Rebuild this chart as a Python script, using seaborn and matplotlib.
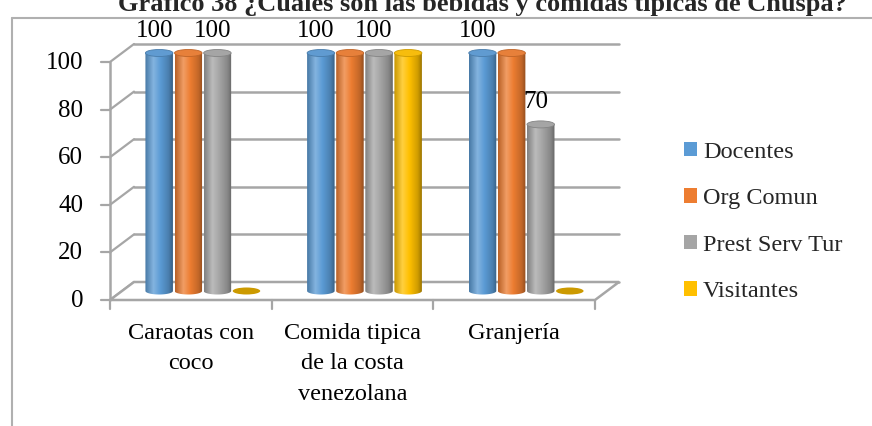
import numpy as np
import pandas as pd
import matplotlib
matplotlib.use("Agg")
import matplotlib.pyplot as plt
import matplotlib.transforms as mtransforms
from matplotlib.path import Path
from matplotlib.patches import Ellipse, Polygon, Rectangle
from matplotlib.colors import LinearSegmentedColormap, to_rgb
from matplotlib.lines import Line2D
import seaborn as sns

# ---------------- data ----------------
categorias = ["Caraotas con\ncoco", "Comida tipica\nde la costa\nvenezolana", "Granjería"]
grupos = ["Docentes", "Org Comun", "Prest Serv Tur", "Visitantes"]
docentes = [100, 100, 100]
org_comun = [100, 100, 100]
prest_serv_tur = [100, 100, 70]
visitantes = [0, 100, 0]
colores = ["#5B9BD5", "#ED7D31", "#A5A5A5", "#FFC000"]
grupos_con_etiqueta = ["Docentes", "Prest Serv Tur"]
titulo = "Gráfico 38 ¿Cuáles son las bebidas y comidas típicas de Chuspa?"
yticks = [0, 20, 40, 60, 80, 100]

series = [docentes, org_comun, prest_serv_tur, visitantes]
df = pd.DataFrame({
    "categoria": [c for s in series for c in categorias],
    "grupo": [g for g, s in zip(grupos, series) for _ in s],
    "valor": [v for s in series for v in s],
})

# ---------------- figure ----------------
sns.set_theme(style="white")
plt.rcParams["font.family"] = ["Liberation Serif", "DejaVu Serif"]
FS = 17.5
W, H = 872, 426
fig = plt.figure(figsize=(W / 100, H / 100), dpi=100)
x0, x1 = 110, 595
y0, y1 = 300, 62
ax = fig.add_axes([x0 / W, (H - y0) / H, (x1 - x0) / W, (y0 - y1) / H])

sns.barplot(data=df, x="categoria", y="valor", hue="grupo", palette=colores,
            hue_order=grupos, order=categorias, width=0.72, gap=0, ax=ax,
            legend=False, saturation=1, errorbar=None)
ax.set_xlim(-0.5, len(categorias) - 0.5)
ax.set_ylim(0, 100)
for s in ax.spines.values():
    s.set_visible(False)
ax.set_xticks([])
ax.set_yticks([])
ax.set_xlabel("")
ax.set_ylabel("")

DX, DY = 24, 18  # depth offset in pixels
grid_c = "#A6A6A6"
idn = mtransforms.IdentityTransform()
wall = mtransforms.offset_copy(ax.get_yaxis_transform(), fig=fig, x=DX, y=DY, units="dots")
disp = lambda xy: ax.transData.transform(xy)

# back wall gridlines + left wall diagonals + y ticks
for t in yticks:
    ax.add_line(Line2D([0, 1], [t, t], transform=wall, color=grid_c, lw=1.8, clip_on=False, zorder=0))
    p0 = disp((-0.5, t))
    ax.add_line(Line2D([p0[0], p0[0] + DX], [p0[1], p0[1] + DY], transform=idn,
                       color=grid_c, lw=1.6, clip_on=False, zorder=0))
    ax.add_line(Line2D([p0[0] - 9, p0[0]], [p0[1], p0[1]], transform=idn,
                       color=grid_c, lw=1.6, clip_on=False, zorder=0))
    ax.text(p0[0] - 27, p0[1] - 1, f"{t}", transform=idn, ha="right",
            va="center", fontsize=FS + 0.5, color="black")

# floor
pl = disp((-0.5, 0)); pr = disp((len(categorias) - 0.5, 0))
floor = Polygon([pl, pr, (pr[0] + DX, pr[1] + DY), (pl[0] + DX, pl[1] + DY)], closed=True,
                transform=idn, facecolor="white", edgecolor=grid_c,
                lw=1.8, zorder=0.5, clip_on=False)
ax.add_patch(floor)
pt = disp((-0.5, 100))
ax.add_line(Line2D([pl[0], pt[0]], [pl[1], pt[1]], transform=idn,
                   color=grid_c, lw=1.8, clip_on=False, zorder=0.6))
for i in range(len(categorias) + 1):
    p = disp((i - 0.5, 0))
    ax.add_line(Line2D([p[0], p[0]], [p[1], p[1] - 9], transform=idn,
                       color=grid_c, lw=1.6, clip_on=False, zorder=0.6))
for i, c in enumerate(categorias):
    p = disp((i, 0))
    ax.text(p[0], p[1] - 23, c, transform=idn, ha="center", va="top",
            fontsize=FS, linespacing=1.58, color="black")

# cylinders
def cyl_cmap(col):
    r = np.array(to_rgb(col))
    stops = [(0.0, r * 0.78), (0.3, np.clip(r + (1 - r) * 0.25, 0, 1)), (0.55, r),
             (0.85, r * 0.82), (1.0, r * 0.62)]
    return LinearSegmentedColormap.from_list("c", [(p, tuple(np.clip(c, 0, 1))) for p, c in stops])

EH = 7
patches = [p for p in ax.patches if isinstance(p, Rectangle)]
k = 0
for gi, g in enumerate(grupos):
    for ci in range(len(categorias)):
        p = patches[k]; k += 1
        p.set_visible(False)
        xb, w, h = p.get_x(), p.get_width(), p.get_height()
        (lx, by) = disp((xb, 0)); (rx, ty) = disp((xb + w, h))
        lx += DX / 2; rx += DX / 2; by += DY / 2; ty += DY / 2
        lx += 0.8; rx -= 0.8
        cx = (lx + rx) / 2; rw = (rx - lx) / 2
        col = colores[gi]
        if h > 0:
            th = np.linspace(np.pi, 2 * np.pi, 30)
            verts = [(lx, ty)] + [(cx + rw * np.cos(a), by + EH / 2 * np.sin(a)) for a in th] + [(rx, ty), (lx, ty)]
            path = Path(verts)
            grad = np.linspace(0, 1, 64).reshape(1, -1)
            im = ax.imshow(grad, cmap=cyl_cmap(col), aspect="auto",
                           extent=[lx, rx, by - EH, ty], transform=idn, zorder=2 + gi * 0.01,
                           interpolation="bilinear")
            im.set_clip_box(fig.bbox)
            im.set_clip_path(path, transform=idn)
            top = np.array(to_rgb(col))
            ax.add_patch(Ellipse((cx, ty), 2 * rw, EH, transform=idn,
                                 facecolor=tuple(np.clip(top * 0.92 + 0.05, 0, 1)),
                                 edgecolor=tuple(top * 0.8), lw=0.6, zorder=2.1 + gi * 0.01, clip_on=False))
        else:
            ax.add_patch(Ellipse((cx, by), 2 * rw, EH, transform=idn,
                                 facecolor=tuple(np.array(to_rgb(col)) * 0.8), edgecolor="none",
                                 zorder=2, clip_on=False))
        if g in grupos_con_etiqueta:
            ax.text(cx - 5, ty + 22, f"{int(h)}", transform=idn, ha="center", va="center",
                    fontsize=FS + 0.5, color="black")

ax.set_xlim(-0.5, len(categorias) - 0.5)
ax.set_ylim(0, 100)

# legend
handles = [Rectangle((0, 0), 1, 1, facecolor=c, edgecolor="none") for c in colores]
leg = fig.legend(handles, grupos, loc="center left", bbox_to_anchor=(674 / W, 1 - 222 / H),
                 frameon=False, fontsize=FS, handlelength=0.55, handleheight=0.55,
                 handletextpad=0.25, labelspacing=1.05, borderaxespad=0)

# outer frame and title
fig.add_artist(Line2D([12 / W, 12 / W], [0, 1 - 18 / H], color="#B0B0B0", lw=1.5, transform=fig.transFigure))
fig.add_artist(Line2D([12 / W, 1], [1 - 18 / H, 1 - 18 / H], color="#B0B0B0", lw=1.5, transform=fig.transFigure))
fig.text(482 / W, 1 - 11 / H, titulo, ha="center", va="baseline", fontsize=19, fontweight="bold")

fig.savefig("out.png", dpi=100)
